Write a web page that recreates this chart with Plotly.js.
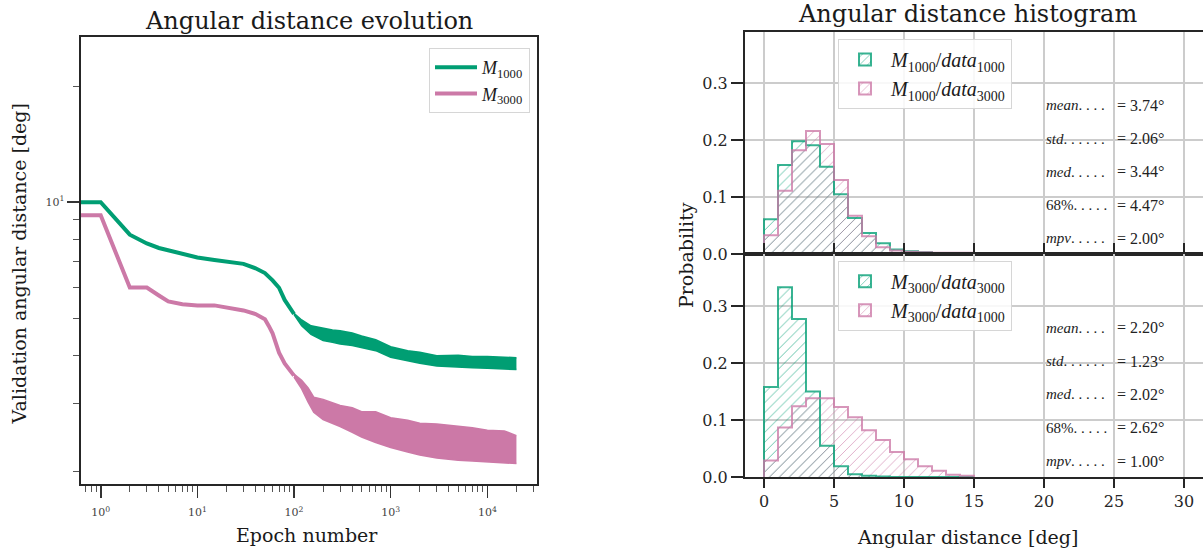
<!DOCTYPE html>
<html><head><meta charset="utf-8">
<script src="https://cdn.plot.ly/plotly-3.0.1.min.js"></script>
<style>html,body{margin:0;padding:0;background:#fff;}#chart{width:1203px;height:552px;}</style>
</head><body><div id="chart"></div>
<script>
// ---------------- Left panel data ----------------
const lineEpochsM1000 = [0.5, 1, 2, 3, 4, 5, 7, 10, 15, 20, 30, 40, 50, 60, 70, 80, 100];
const lineValuesM1000 = [10.0, 10.0, 8.24, 7.82, 7.61, 7.50, 7.34, 7.19, 7.08, 7.01, 6.92, 6.74, 6.55, 6.27, 6.00, 5.58, 5.13];
const bandEpochsM1000 = [100, 120, 150, 200, 250, 300, 400, 500, 700, 1000, 1500, 2000, 3000, 5000, 7000, 10000, 15000, 20000];
const bandUpperM1000 = [5.15, 4.95, 4.78, 4.70, 4.66, 4.64, 4.58, 4.50, 4.40, 4.22, 4.12, 4.08, 4.00, 4.01, 3.98, 3.98, 3.96, 3.95];
const bandLowerM1000 = [5.11, 4.78, 4.54, 4.38, 4.33, 4.29, 4.25, 4.20, 4.12, 3.96, 3.88, 3.82, 3.76, 3.73, 3.72, 3.71, 3.69, 3.68];

const lineEpochsM3000 = [0.5, 1, 2, 3, 4, 5, 7, 10, 15, 20, 30, 40, 50, 55, 60, 70, 80, 100];
const lineValuesM3000 = [9.25, 9.25, 6.01, 6.01, 5.73, 5.53, 5.44, 5.40, 5.40, 5.33, 5.24, 5.13, 4.97, 4.77, 4.57, 4.07, 3.82, 3.55];
const bandEpochsM3000 = [100, 120, 140, 160, 200, 250, 300, 400, 500, 700, 1000, 1500, 2000, 3000, 5000, 7000, 10000, 15000, 20000];
const bandUpperM3000 = [3.58, 3.45, 3.30, 3.12, 3.08, 3.02, 2.97, 2.93, 2.86, 2.86, 2.76, 2.72, 2.67, 2.66, 2.62, 2.60, 2.56, 2.55, 2.48];
const bandLowerM3000 = [3.52, 3.28, 3.03, 2.85, 2.73, 2.67, 2.62, 2.53, 2.46, 2.38, 2.31, 2.25, 2.21, 2.17, 2.14, 2.13, 2.12, 2.11, 2.10];

const xTickVals = [1, 10, 100, 1000, 10000];
const xTickText = ['10<sup>0</sup>', '10<sup>1</sup>', '10<sup>2</sup>', '10<sup>3</sup>', '10<sup>4</sup>'];
const yTickVals = [10];
const yTickText = ['10<sup>1</sup>'];
const yMinorVals = [2, 3, 4, 5, 6, 7, 8, 9, 20];

// ---------------- Right panel data ----------------
const binLeftEdges = [0, 1, 2, 3, 4, 5, 6, 7, 8, 9, 10, 11, 12, 13, 14];
const histM1000data1000 = [0.061, 0.156, 0.198, 0.191, 0.153, 0.105, 0.063, 0.037, 0.019, 0.008, 0.005, 0.003, 0.001, 0.001, 0.001];
const histM1000data3000 = [0.033, 0.111, 0.182, 0.216, 0.193, 0.130, 0.067, 0.031, 0.012, 0.006, 0.004, 0.003, 0.002, 0.002, 0.002];
const histM3000data3000 = [0.158, 0.333, 0.277, 0.150, 0.055, 0.019, 0.005, 0.002, 0.001, 0, 0, 0, 0, 0, 0];
const histM3000data1000 = [0.029, 0.087, 0.124, 0.138, 0.138, 0.123, 0.105, 0.082, 0.065, 0.044, 0.031, 0.019, 0.011, 0.004, 0.002];

const statNames = ['mean', 'std', 'med', '68%', 'mpv'];
const statDots = [4, 6, 5, 5, 5];
const statsM1000 = [3.74, 2.06, 3.44, 4.47, 2.00];
const statsM3000 = [2.20, 1.23, 2.02, 2.62, 1.00];

// ---------------- styles ----------------
const GREEN = '#009E73', PINK = '#CC79A7';
const GREEN_EDGE = 'rgba(0,158,115,0.78)', PINK_EDGE = 'rgba(204,121,167,0.78)';
const SERIF = 'DejaVu Serif', MATH = 'Liberation Serif';
const W = 1203, H = 552;
const px = v => v / W, py = v => 1 - v / H;

const traces = [];
function addCurve(epochs, values, bEp, bUp, bLo, color, name) {
  traces.push({type: 'scatter', mode: 'lines', x: epochs, y: values,
    xaxis: 'x', yaxis: 'y', line: {color: color, width: 4}, name: name, legend: 'legend'});
  traces.push({type: 'scatter', mode: 'lines', x: bEp, y: bLo, xaxis: 'x', yaxis: 'y',
    line: {color: color, width: 1.5}, showlegend: false, hoverinfo: 'skip'});
  traces.push({type: 'scatter', mode: 'lines', x: bEp, y: bUp, xaxis: 'x', yaxis: 'y',
    line: {color: color, width: 1.5}, fill: 'tonexty', fillcolor: color, showlegend: false, hoverinfo: 'skip'});
}
addCurve(lineEpochsM1000, lineValuesM1000, bandEpochsM1000, bandUpperM1000, bandLowerM1000, GREEN, '<i>M</i><sub>1000</sub>');
addCurve(lineEpochsM3000, lineValuesM3000, bandEpochsM3000, bandUpperM3000, bandLowerM3000, PINK, '<i>M</i><sub>3000</sub>');

function pattern(color) {
  return {shape: '/', fgcolor: color, fgopacity: 0.6, bgcolor: 'rgba(0,0,0,0)', size: 7, solidity: 0.14};
}
function addHist(vals, color, edge, yaxis, name, legendId) {
  traces.push({type: 'bar', x: binLeftEdges, y: vals, width: 1, offset: 0, xaxis: 'x2', yaxis: yaxis,
    marker: {color: 'rgba(0,0,0,0)', line: {width: 0}, pattern: pattern(color)},
    showlegend: false, hoverinfo: 'skip'});
  const sx = [binLeftEdges[0]].concat(binLeftEdges, [binLeftEdges[binLeftEdges.length - 1] + 1]);
  const sy = [0].concat(vals, [0]);
  traces.push({type: 'scatter', mode: 'lines', x: sx, y: sy, xaxis: 'x2', yaxis: yaxis,
    line: {shape: 'hv', color: edge, width: 2}, showlegend: false, hoverinfo: 'skip'});
  // legend key only (its single value is empty, so it draws no bar)
  traces.push({type: 'bar', x: [null], y: [null], xaxis: 'x2', yaxis: yaxis, name: name, legend: legendId,
    marker: {color: 'rgba(0,0,0,0)', line: {width: 2, color: edge}, pattern: pattern(color)}, hoverinfo: 'skip'});
}
addHist(histM1000data1000, GREEN, GREEN_EDGE, 'y2', '<i>M</i><sub>1000</sub>/<i>data</i><sub>1000</sub>', 'legend2');
addHist(histM1000data3000, PINK, PINK_EDGE, 'y2', '<i>M</i><sub>1000</sub>/<i>data</i><sub>3000</sub>', 'legend2');
addHist(histM3000data3000, GREEN, GREEN_EDGE, 'y3', '<i>M</i><sub>3000</sub>/<i>data</i><sub>3000</sub>', 'legend3');
addHist(histM3000data1000, PINK, PINK_EDGE, 'y3', '<i>M</i><sub>3000</sub>/<i>data</i><sub>1000</sub>', 'legend3');

// minor tick positions for the log x axis
const xMinorVals = [];
for (let d = -1; d <= 4; d++) for (let m = 2; m <= 9; m++) {
  const v = m * Math.pow(10, d);
  if (v >= 0.62 && v <= 32000) xMinorVals.push(v);
}

const annotations = [];
function ann(text, x, y, size, extra) {
  annotations.push(Object.assign({text: text, x: px(x), y: py(y), xref: 'paper', yref: 'paper', showarrow: false,
    xanchor: 'center', yanchor: 'middle', font: {family: SERIF, size: size, color: '#1a1a1a'}}, extra || {}));
}
ann('Angular distance evolution', 309, 21, 24);
ann('Epoch number', 307, 535, 19);
ann('Validation angular distance [deg]', 18.5, 264, 19, {textangle: -90});
ann('Angular distance histogram', 967, 14, 24);
ann('Angular distance [deg]', 967, 537, 19);
ann('Probability', 686, 255, 19, {textangle: -90});

function statAnns(stats, yref) {
  stats.forEach((v, i) => {
    const nm = statNames[i];
    const lbl = (nm === '68%' ? nm : '<i>' + nm + '</i>') + Array(statDots[i]).fill('.').join(' ');
    const yy = 0.67 - 0.15 * i;
    annotations.push({text: lbl, x: 20, y: yy, xref: 'x2', yref: yref, xanchor: 'left', yanchor: 'middle',
      showarrow: false, font: {family: MATH, size: 15, color: '#222'}});
    annotations.push({text: '= ' + v.toFixed(2) + '°', x: 25.1, y: yy, xref: 'x2', yref: yref, xanchor: 'left', yanchor: 'middle',
      showarrow: false, font: {family: MATH, size: 16, color: '#222'}});
  });
}
statAnns(statsM1000, 'y2 domain');
statAnns(statsM3000, 'y3 domain');

// right panel geometry: 14 px per unit on x (0 at x=764), 57 px per 0.1 on y
const R_LEFT = 745, R_ZERO = 764, R_UNIT = 14;
const TOP_T = 32, MID = 254, BOT = 477, Y_UNIT = 570;

const spine = '#262626';
const legendBase = {bgcolor: 'rgba(255,255,255,0.85)', bordercolor: '#d6d6d6', borderwidth: 1, traceorder: 'normal',
  font: {family: MATH, size: 20, color: '#1a1a1a'}};
const histY = (dom, top) => ({domain: dom, range: [0, top], anchor: 'x2', tickvals: [0, 0.1, 0.2, 0.3],
  ticktext: ['0.0', '0.1', '0.2', '0.3'], ticks: 'outside', ticklen: 12, tickwidth: 1.6, tickcolor: spine,
  showgrid: true, gridcolor: '#cccccc', gridwidth: 1.2, showline: true, linewidth: 2, linecolor: spine,
  zeroline: false, tickfont: {family: SERIF, size: 16, color: spine}});

const layout = {
  width: W, height: H, autosize: false, margin: {l: 0, r: 0, t: 0, b: 0},
  paper_bgcolor: '#fff', plot_bgcolor: '#fff', barmode: 'overlay', bargap: 0,
  showlegend: true,
  xaxis: {domain: [px(80.5), px(537.3)], type: 'log', range: [-0.209, 4.517], anchor: 'y',
    tickvals: xTickVals, ticktext: xTickText, ticks: 'outside', ticklen: 12, tickwidth: 1.6, tickcolor: '#333',
    ticklabelstandoff: 5,
    minor: {tickvals: xMinorVals, ticks: 'outside', ticklen: 6, tickwidth: 1, tickcolor: '#555', showgrid: false},
    showline: true, linewidth: 2, linecolor: spine, mirror: true, showgrid: false, zeroline: false,
    tickfont: {family: SERIF, size: 11, color: '#444'}},
  yaxis: {domain: [py(484), py(37.3)], type: 'log', range: [0.269, 1.428], anchor: 'x',
    tickvals: yTickVals, ticktext: yTickText, ticks: 'outside', ticklen: 12, tickwidth: 1.6, tickcolor: '#333',
    minor: {tickvals: yMinorVals, ticks: 'outside', ticklen: 6, tickwidth: 1, tickcolor: '#555', showgrid: false},
    showline: true, linewidth: 2, linecolor: spine, mirror: true, showgrid: false, zeroline: false,
    tickfont: {family: SERIF, size: 11, color: '#444'}},
  xaxis2: {domain: [px(R_LEFT), 1], range: [(R_LEFT - R_ZERO) / R_UNIT, (W - R_ZERO) / R_UNIT], anchor: 'y3',
    tickmode: 'linear', tick0: 0, dtick: 5,
    ticks: 'outside', ticklen: 9, tickwidth: 1.6, tickcolor: spine, showgrid: true, gridcolor: '#cccccc', gridwidth: 1.2,
    showline: true, linewidth: 2, linecolor: spine, mirror: 'all', zeroline: false,
    tickfont: {family: SERIF, size: 16, color: spine}},
  yaxis2: histY([py(MID), py(TOP_T)], (MID - TOP_T) / Y_UNIT),
  yaxis3: histY([py(BOT), py(MID)], (BOT - MID) / Y_UNIT),
  legend: Object.assign({}, legendBase, {x: px(530), y: py(48), xanchor: 'right', yanchor: 'top', itemwidth: 42,
    font: {family: MATH, size: 18, color: '#1a1a1a'}}),
  legend2: Object.assign({}, legendBase, {x: px(838), y: py(39), xanchor: 'left', yanchor: 'top', itemwidth: 42}),
  legend3: Object.assign({}, legendBase, {x: px(838), y: py(260.7), xanchor: 'left', yanchor: 'top', itemwidth: 42}),
  annotations: annotations
};

Plotly.newPlot('chart', traces, layout, {displayModeBar: false, staticPlot: true});
</script>
</body></html>
